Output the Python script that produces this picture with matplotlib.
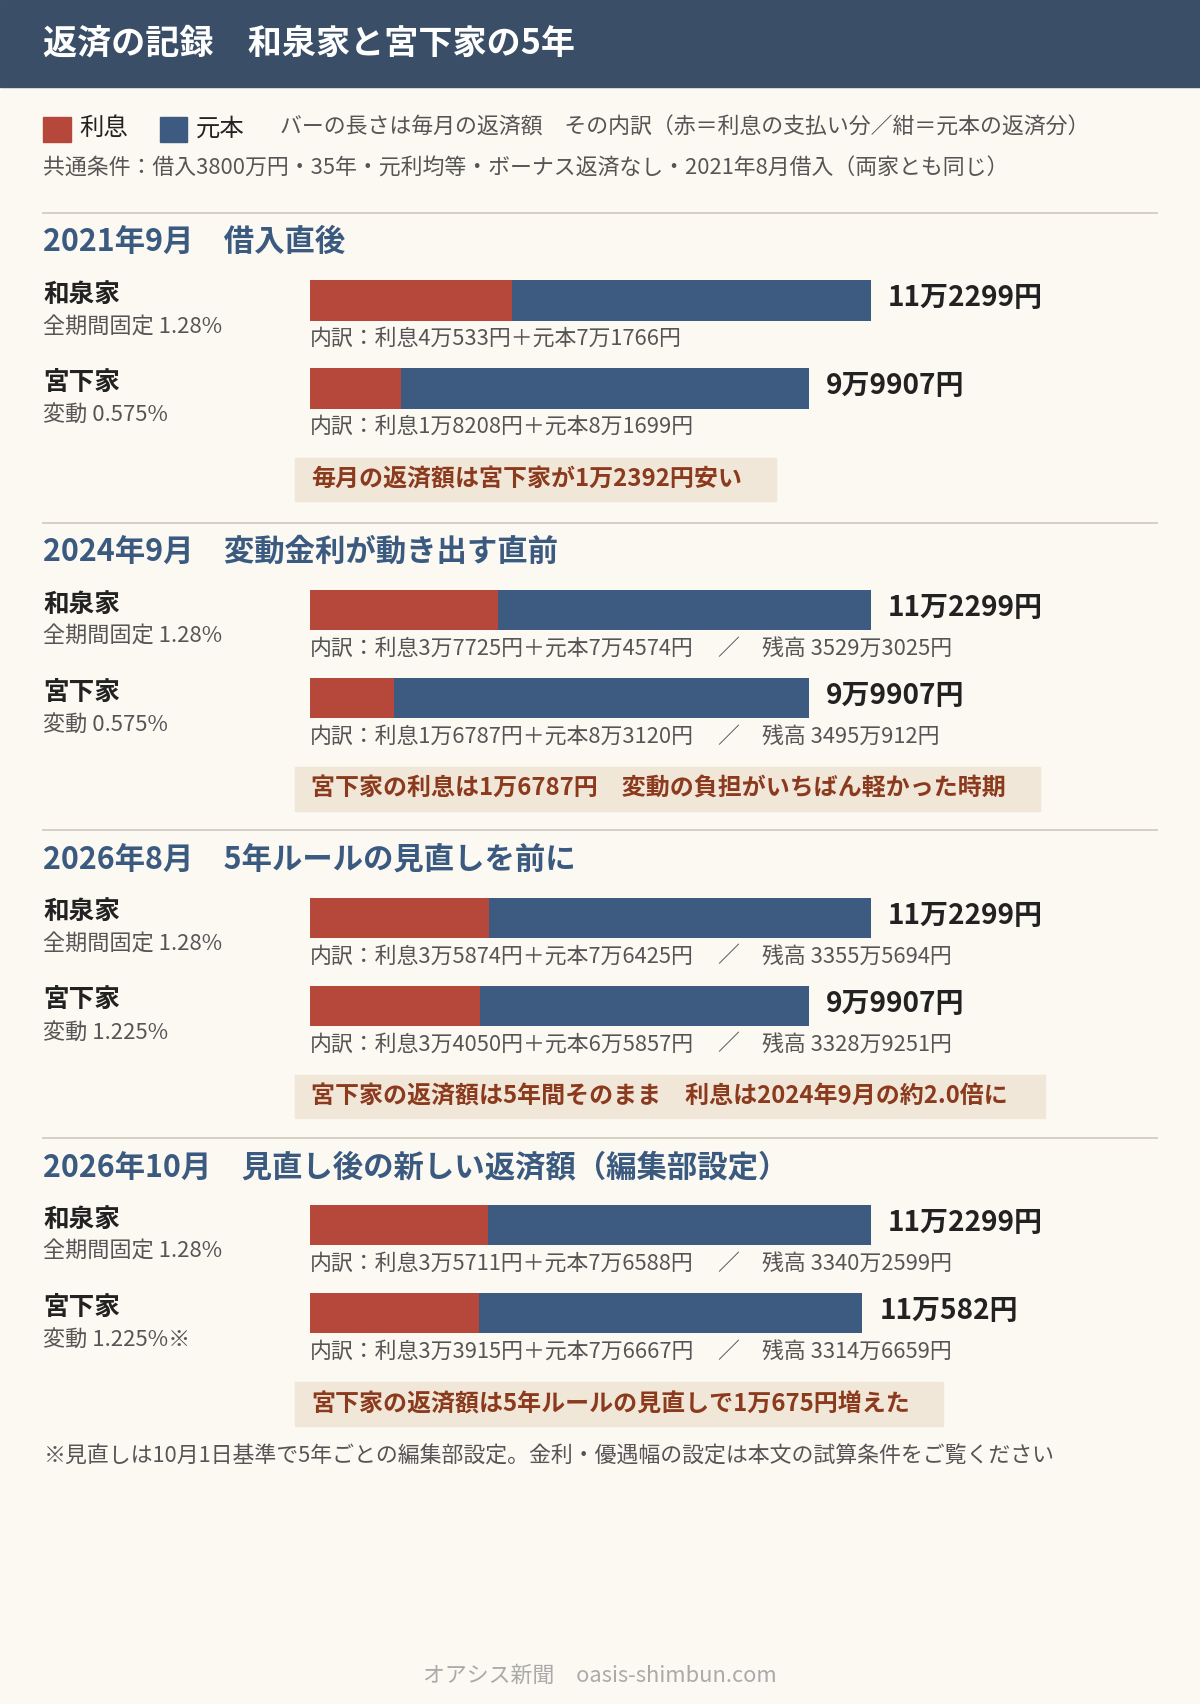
import matplotlib
matplotlib.use("Agg")
import matplotlib.pyplot as plt
from matplotlib.patches import Rectangle

plt.rcParams['font.family'] = ['Noto Sans CJK JP', 'DejaVu Sans']

# ---- data ----
section_titles = ["2021年9月　借入直後", "2024年9月　変動金利が動き出す直前",
                  "2026年8月　5年ルールの見直しを前に", "2026年10月　見直し後の新しい返済額（編集部設定）"]
izumi_interest = [40533, 37725, 35874, 35711]
izumi_principal = [71766, 74574, 76425, 76588]
izumi_balance = [None, "3529万3025円", "3355万5694円", "3340万2599円"]
izumi_rate = ["全期間固定 1.28%"] * 4
miya_interest = [18208, 16787, 34050, 33915]
miya_principal = [81699, 83120, 65857, 76667]
miya_balance = [None, "3495万912円", "3328万9251円", "3314万6659円"]
miya_rate = ["変動 0.575%", "変動 0.575%", "変動 1.225%", "変動 1.225%※"]
notes = ["毎月の返済額は宮下家が1万2392円安い",
         "宮下家の利息は1万6787円　変動の負担がいちばん軽かった時期",
         "宮下家の返済額は5年間そのまま　利息は2024年9月の約2.0倍に",
         "宮下家の返済額は5年ルールの見直しで1万675円増えた"]
note_widths = [443, 686, 690, 597]

RED = "#b5483a"; BLUE = "#3d5a80"; BG = "#fcf8f2"; DARK = "#3a4f67"
HEAD = "#3b5a80"; NOTEBG = "#f1e7d8"; NOTEFG = "#8b3a1e"; TXT = "#222222"; SUB = "#555555"

W, H = 1104, 1568
fig = plt.figure(figsize=(12, 17.04), dpi=100, facecolor=BG)
ax = fig.add_axes([0, 0, 1, 1])
ax.set_xlim(0, W); ax.set_ylim(H, 0); ax.axis('off')
ax.set_facecolor(BG)

def fs(px):
    return px * (1200 / W) * 0.72 * 1.12

def yen(v):
    m, r = divmod(v, 10000)
    return f"{m}万{r}円"

ax.add_patch(Rectangle((0, 0), W, 80, color=DARK, zorder=1))
ax.text(40, 40, "返済の記録　和泉家と宮下家の5年", color="white", fontsize=fs(28),
        fontweight='bold', va='center', ha='left')

# legend
ax.add_patch(Rectangle((40, 108), 25, 23, color=RED))
ax.text(73, 118, "利息", fontsize=fs(20), va='center', color=TXT)
ax.add_patch(Rectangle((147, 108), 25, 23, color=BLUE))
ax.text(180, 118, "元本", fontsize=fs(20), va='center', color=TXT)
ax.text(258, 117, "バーの長さは毎月の返済額　その内訳（赤＝利息の支払い分／紺＝元本の返済分）",
        fontsize=fs(18), va='center', color=SUB)
ax.text(40, 155, "共通条件：借入3800万円・35年・元利均等・ボーナス返済なし・2021年8月借入（両家とも同じ）",
        fontsize=fs(18), va='center', color=SUB)

X0 = 285
K = 516 / 112299
starts = [223, 508, 791, 1074]
for i, T in enumerate(starts):
    ax.plot([40, 1064], [T - 27, T - 27], color="#d3cbc0", lw=1.3)
    ax.text(40, T, section_titles[i], fontsize=fs(25), fontweight='bold', color=HEAD, va='center')
    rows = [("和泉家", izumi_rate[i], izumi_interest[i], izumi_principal[i], izumi_balance[i], 0),
            ("宮下家", miya_rate[i], miya_interest[i], miya_principal[i], miya_balance[i], 81)]
    for name, rate, it, pr, bal, off in rows:
        ax.text(40, T + 48 + off, name, fontsize=fs(21), fontweight='bold', color=TXT, va='center')
        ax.text(40, T + 78 + off, rate, fontsize=fs(18.2), color=SUB, va='center')
        yc = T + 53.5 + off
        ax.barh(yc, it * K, left=X0, height=37, color=RED)
        ax.barh(yc, pr * K, left=X0 + it * K, height=37, color=BLUE)
        ax.text(X0 + (it + pr) * K + 16, yc - 2, yen(it + pr), fontsize=fs(23),
                fontweight='bold', color=TXT, va='center')
        ax.text(X0, T + 89 + off, f"内訳：利息{yen(it)}＋元本{yen(pr)}", fontsize=fs(18),
                color=SUB, va='center')
        if bal:
            ax.text(660, T + 89 + off, "／", fontsize=fs(18), color=SUB, va='center')
            ax.text(701, T + 89 + off, f"残高 {bal}", fontsize=fs(18), color=SUB, va='center')
    ax.add_patch(Rectangle((271, T + 198), note_widths[i], 40, color=NOTEBG))
    ax.text(286, T + 218, notes[i], fontsize=fs(19.7), fontweight='bold', color=NOTEFG, va='center')

ax.text(40, 1340, "※見直しは10月1日基準で5年ごとの編集部設定。金利・優遇幅の設定は本文の試算条件をご覧ください",
        fontsize=fs(18), color=SUB, va='center')
ax.text(W / 2, 1542, "オアシス新聞　oasis-shimbun.com", fontsize=fs(18), color="#aaaaaa",
        va='center', ha='center')

fig.savefig("out.png", dpi=100, facecolor=BG)
